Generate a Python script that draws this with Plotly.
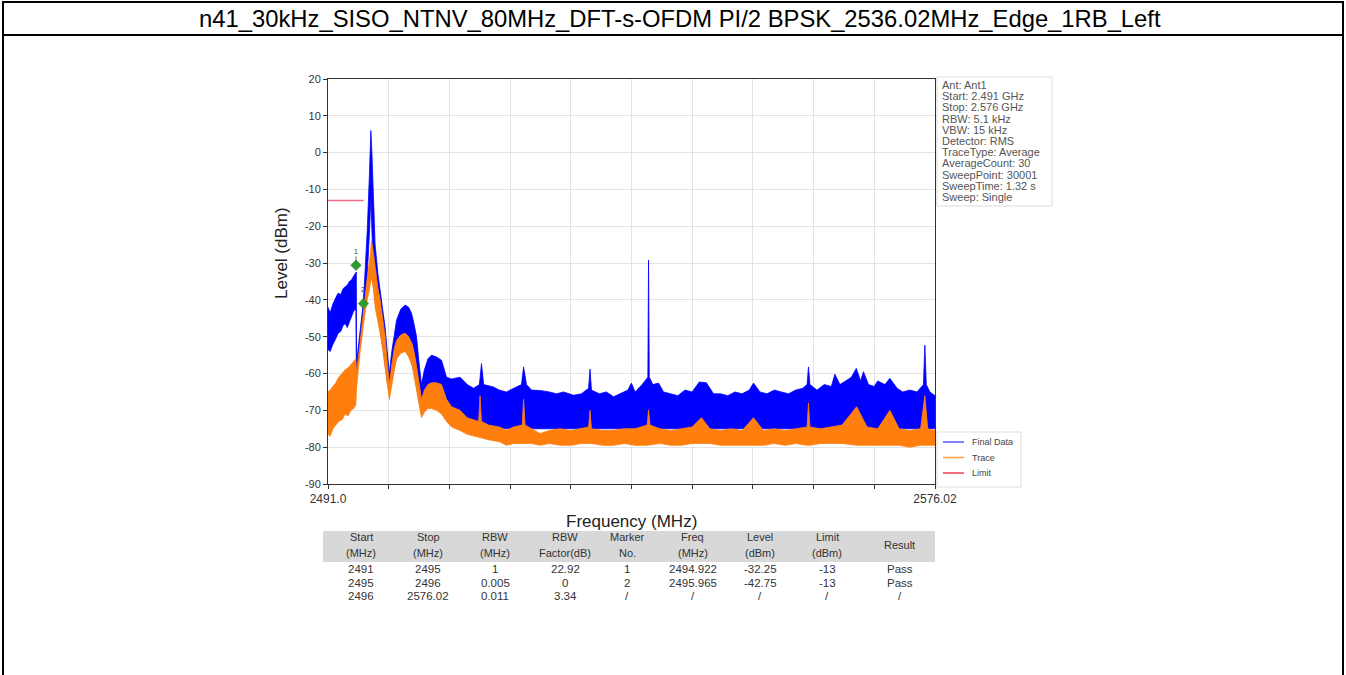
import plotly.graph_objects as go

W, H = 1346, 675

title_text = "n41_30kHz_SISO_NTNV_80MHz_DFT-s-OFDM PI/2 BPSK_2536.02MHz_Edge_1RB_Left"

# ---- Final Data (blue) envelope: frequency (MHz), upper level, lower level (dBm)
blue_freq = [2491.0, 2491.3, 2491.7, 2492.1, 2492.4, 2492.8, 2493.1, 2493.4, 2493.7, 2494.0,
             2494.3, 2494.6, 2494.9, 2494.97, 2495.0, 2495.3, 2495.6, 2495.96, 2496.2, 2496.5,
             2496.8, 2497.0, 2497.15, 2497.3, 2497.6, 2498.0, 2498.3, 2498.7, 2499.0, 2499.3,
             2499.6, 2499.9, 2500.3, 2500.6, 2501.2, 2501.8, 2502.3, 2502.7, 2503.1, 2503.4,
             2503.8, 2504.1, 2504.5, 2505.0, 2505.5, 2506.2, 2506.9, 2507.6, 2508.3, 2509.5,
             2510.5, 2511.4, 2512.2, 2512.5, 2512.8, 2514.1, 2515.0, 2516.0, 2517.0, 2518.1,
             2518.4, 2518.8, 2519.5, 2520.7, 2522.0, 2523.0, 2524.0, 2525.4, 2526.5, 2527.5,
             2527.7, 2527.9, 2529.0, 2530.0, 2531.0, 2532.0, 2533.0, 2533.5, 2534.0, 2535.0,
             2535.8, 2535.9, 2536.0, 2536.5, 2537.3, 2538.0, 2539.0, 2540.0, 2541.0, 2542.0,
             2543.0, 2544.0, 2545.0, 2546.0, 2547.0, 2548.0, 2549.0, 2550.0, 2550.6, 2551.5,
             2552.5, 2553.5, 2554.5, 2555.5, 2556.5, 2557.5, 2558.1, 2558.3, 2558.5, 2559.5,
             2560.5, 2561.5, 2562.0, 2562.7, 2563.5, 2564.3, 2565.0, 2565.6, 2566.0, 2566.7,
             2567.5, 2568.0, 2569.0, 2569.7, 2570.7, 2571.5, 2572.5, 2573.5, 2574.4, 2574.6,
             2574.8, 2575.3, 2576.02]
blue_top = [-42.0, -43.5, -41.0, -39.5, -38.2, -38.5, -37.0, -36.4, -36.0, -35.0,
            -34.5, -33.5, -32.4, -32.4, -57.0, -52.0, -46.5, -40.5, -32.0, -21.0,
            -6.0, 6.0, 0.0, -7.0, -25.0, -33.0, -37.0, -42.5, -47.5, -54.0,
            -60.0, -54.5, -48.5, -45.5, -42.5, -41.4, -42.0, -43.6, -47.0, -50.0,
            -58.0, -63.0, -59.0, -56.0, -55.0, -55.5, -56.4, -61.0, -61.5, -61.0,
            -63.0, -64.0, -63.0, -57.3, -63.0, -63.6, -64.5, -65.0, -64.0, -63.0,
            -58.2, -63.0, -64.5, -64.6, -65.0, -65.5, -65.0, -65.9, -65.5, -64.0,
            -58.8, -64.5, -65.5, -65.0, -66.3, -65.5, -64.5, -62.6, -65.0, -63.0,
            -61.0, -29.2, -61.0, -63.0, -62.6, -65.0, -65.5, -66.0, -64.5, -65.0,
            -62.3, -62.5, -65.5, -65.5, -66.0, -65.0, -65.5, -64.5, -62.6, -65.0,
            -65.5, -64.5, -65.0, -65.5, -64.5, -64.0, -63.0, -58.2, -63.0, -64.5,
            -63.0, -63.5, -60.2, -63.0, -62.0, -61.0, -58.6, -62.0, -59.5, -63.0,
            -63.5, -62.0, -63.0, -61.3, -64.0, -65.0, -64.5, -65.0, -63.0, -52.3,
            -63.0, -65.0, -66.0]
blue_bottom = [-53.5, -54.0, -52.0, -50.5, -49.1, -48.5, -47.0, -46.4, -47.5, -46.0,
               -44.5, -43.0, -42.5, -58.0, -61.0, -56.0, -50.0, -44.0, -40.0, -33.0,
               -22.0, -12.0, -18.0, -30.0, -40.0, -45.0, -48.0, -53.0, -57.0, -62.0,
               -65.0, -62.0, -58.0, -56.0, -54.0, -53.5, -55.0, -57.0, -60.0, -63.0,
               -68.0, -71.0, -70.0, -69.0, -68.0, -69.0, -70.0, -72.0, -74.0] + [-75.0] * 84

# ---- Trace (orange) envelope
orange_freq = [2491.0, 2491.3, 2491.7, 2492.1, 2492.5, 2493.0, 2493.4, 2493.8, 2494.2, 2494.6,
               2494.9, 2495.0, 2495.5, 2495.96, 2496.3, 2496.5, 2496.9, 2497.1, 2497.35, 2497.6,
               2498.0, 2498.3, 2498.7, 2499.0, 2499.3, 2499.6, 2499.9, 2500.3, 2500.6, 2501.2,
               2501.8, 2502.3, 2502.8, 2503.1, 2503.4, 2503.8, 2504.1, 2504.5, 2505.0, 2505.5,
               2506.2, 2506.9, 2507.6, 2508.3, 2509.5, 2510.5, 2511.5, 2512.1, 2512.3, 2512.5,
               2513.5, 2515.0, 2516.0, 2517.0, 2518.2, 2518.4, 2518.6, 2519.5, 2520.7, 2522.0,
               2523.5, 2525.0, 2526.5, 2527.5, 2527.7, 2527.9, 2529.5, 2531.0, 2532.5, 2534.0,
               2535.7, 2535.9, 2536.1, 2537.5, 2539.0, 2540.5, 2542.0, 2543.3, 2544.5, 2546.0,
               2547.5, 2549.0, 2550.6, 2552.0, 2553.5, 2555.0, 2556.5, 2558.1, 2558.3, 2558.5,
               2560.0, 2561.5, 2563.0, 2565.05, 2566.5, 2568.0, 2569.7, 2571.0, 2572.5, 2574.0,
               2574.6, 2575.0, 2576.02]
orange_top = [-65.0, -64.5, -63.5, -62.5, -61.0, -60.0, -59.0, -58.5, -57.5, -56.5,
              -56.0, -60.0, -51.0, -44.0, -37.0, -34.0, -28.0, -24.0, -27.0, -31.0,
              -37.0, -40.0, -45.0, -50.0, -57.0, -63.0, -58.0, -53.0, -51.0, -49.5,
              -49.0, -50.0, -52.0, -54.5, -58.0, -64.0, -67.0, -64.5, -63.0, -62.5,
              -62.5, -63.0, -67.0, -69.0, -70.0, -72.0, -72.7, -73.0, -66.0, -73.0,
              -74.0, -74.5, -75.4, -74.5, -74.0, -67.0, -74.0, -75.0, -76.3, -75.5,
              -75.0, -75.5, -75.0, -74.5, -70.0, -75.0, -75.5, -75.4, -75.0, -75.0,
              -74.0, -69.9, -74.0, -75.0, -75.5, -75.0, -74.5, -72.0, -75.0, -75.5,
              -75.0, -75.5, -72.0, -75.5, -75.0, -75.5, -75.0, -74.5, -68.0, -74.5,
              -75.0, -74.5, -74.0, -69.0, -74.5, -75.0, -70.0, -75.0, -75.5, -75.0,
              -66.0, -75.0, -75.5]
orange_bottom = [-76.5, -77.0, -75.0, -74.0, -73.0, -72.5, -71.0, -71.5, -70.0, -69.5,
                 -68.5, -64.0, -54.0, -47.0, -42.0, -40.0, -36.0, -34.0, -37.0, -42.0,
                 -46.0, -49.0, -54.0, -58.0, -63.0, -67.0, -64.0, -59.0, -56.0, -54.5,
                 -54.0, -55.5, -58.0, -61.0, -64.0, -69.0, -72.0, -70.5, -69.5, -69.5,
                 -70.0, -71.0, -73.0, -74.5, -75.5, -76.5, -77.0, -77.5, -77.5, -77.5,
                 -78.0, -78.5, -79.5, -79.0, -79.0, -79.0, -79.0, -79.0, -79.5, -79.0,
                 -79.5, -79.5, -79.0, -79.0, -79.0, -79.0, -79.5, -79.5, -79.0, -79.5,
                 -79.5, -79.5, -79.5, -79.0, -79.5, -79.5, -79.0, -79.0, -79.0, -79.5,
                 -79.5, -79.5, -79.5, -79.5, -79.0, -79.5, -79.0, -79.5, -79.5, -79.5,
                 -79.0, -79.0, -79.0, -79.5, -79.5, -79.5, -79.5, -79.5, -80.0, -79.5,
                 -79.5, -79.5, -79.5]

# ---- Limit line
limit_freq = [2491.0, 2496.0]
limit_level = [-13.0, -13.0]

# ---- Markers
marker_no = ["1", "2"]
marker_freq = [2494.922, 2495.965]
marker_level = [-30.6, -41.0]

# ---- Axis ticks
x_tick_values = [2491.0, 2499.502, 2508.004, 2516.506, 2525.008, 2533.51, 2542.012,
                 2550.514, 2559.016, 2567.518, 2576.02]
x_tick_labels = ["2491.0", "", "", "", "", "", "", "", "", "", "2576.02"]
y_tick_values = [20, 10, 0, -10, -20, -30, -40, -50, -60, -70, -80, -90]
y_tick_labels = ["20", "10", "0", "-10", "-20", "-30", "-40", "-50", "-60", "-70", "-80", "-90"]

# ---- Info box
info_lines = ["Ant: Ant1", "Start: 2.491 GHz", "Stop: 2.576 GHz", "RBW: 5.1 kHz", "VBW: 15 kHz",
              "Detector: RMS", "TraceType: Average", "AverageCount: 30", "SweepPoint: 30001",
              "SweepTime: 1.32 s", "Sweep: Single"]

# ---- Legend
legend_names = ["Final Data", "Trace", "Limit"]
legend_colors = ["#5a5aff", "#ffa040", "#f03c50"]

# ---- Table
table_header = [["Start", "(MHz)"], ["Stop", "(MHz)"], ["RBW", "(MHz)"], ["RBW", "Factor(dB)"],
                ["Marker", "No."], ["Freq", "(MHz)"], ["Level", "(dBm)"], ["Limit", "(dBm)"], ["Result"]]
table_rows = [
    ["2491", "2495", "1", "22.92", "1", "2494.922", "-32.25", "-13", "Pass"],
    ["2495", "2496", "0.005", "0", "2", "2495.965", "-42.75", "-13", "Pass"],
    ["2496", "2576.02", "0.011", "3.34", "/", "/", "/", "/", "/"],
]

FONT = "Liberation Sans, Arial, sans-serif"
BLUE = "#0000ff"
ORANGE = "#ff7f0e"


def px(x):
    return x / W


def py(y):
    return 1 - y / H


fig = go.Figure()

fig.add_trace(go.Scatter(
    x=blue_freq + blue_freq[::-1], y=blue_top + blue_bottom[::-1],
    fill="toself", fillcolor=BLUE, mode="lines", line=dict(color=BLUE, width=0.8),
    showlegend=False, hoverinfo="skip"))
fig.add_trace(go.Scatter(
    x=orange_freq + orange_freq[::-1], y=orange_top + orange_bottom[::-1],
    fill="toself", fillcolor=ORANGE, mode="lines", line=dict(color=ORANGE, width=0.8),
    showlegend=False, hoverinfo="skip"))
fig.add_trace(go.Scatter(
    x=limit_freq, y=limit_level, mode="lines",
    line=dict(color="rgba(240,60,100,0.75)", width=1.5), showlegend=False))
fig.add_trace(go.Scatter(
    x=marker_freq, y=marker_level, mode="markers",
    marker=dict(symbol="diamond", size=8, color="#2e9b2e", line=dict(color="#1d6b1d", width=0.5)),
    showlegend=False))

annotations = []
shapes = []


def txt(x, y, text, size, color="#333", xanchor="center", angle=0):
    annotations.append(dict(x=px(x), y=py(y), xref="paper", yref="paper", text=text,
                            showarrow=False, textangle=angle,
                            font=dict(family=FONT, size=size, color=color),
                            xanchor=xanchor, yanchor="middle"))


txt(680, 19, title_text, 23.8, "black")
txt(281, 253, "Level (dBm)", 17, "#222", angle=-90)
txt(631, 521, "Frequency (MHz)", 17, "#222")

# info box
shapes.append(dict(type="rect", xref="paper", yref="paper", x0=px(937), x1=px(1052), y0=py(77),
                   y1=py(206), line=dict(color="#dddddd", width=1), fillcolor="white", layer="below"))
for i, line in enumerate(info_lines):
    txt(940, 85 + i * 11.2, line, 11, "#555", xanchor="left")

# legend box
shapes.append(dict(type="rect", xref="paper", yref="paper", x0=px(937), x1=px(1021), y0=py(432),
                   y1=py(487), line=dict(color="#dddddd", width=1), fillcolor="white", layer="below"))
for i, (name, col) in enumerate(zip(legend_names, legend_colors)):
    yy = 442 + i * 15.5
    shapes.append(dict(type="line", xref="paper", yref="paper", x0=px(943), x1=px(964),
                       y0=py(yy), y1=py(yy), line=dict(color=col, width=1.5)))
    txt(970, yy, name, 9, "#444", xanchor="left")

# marker labels
for n, f, l in zip(marker_no, marker_freq, marker_level):
    annotations.append(dict(x=f, y=l, xref="x", yref="y", text=n, showarrow=True, arrowhead=0,
                            arrowwidth=0.8, arrowcolor="#444", ax=0, ay=-14, standoff=4,
                            font=dict(family=FONT, size=7, color="#333")))

# table
col_centers = [361, 428, 495, 565, 627, 693, 760, 827, 900]
shapes.append(dict(type="rect", xref="paper", yref="paper", x0=px(323), x1=px(935), y0=py(531),
                   y1=py(562), line=dict(width=0), fillcolor="#d8d8d8", layer="below"))
for cx, hdr in zip(col_centers, table_header):
    if len(hdr) == 2:
        txt(cx, 537, hdr[0], 11)
        txt(cx, 552.5, hdr[1], 11)
    else:
        txt(cx, 545, hdr[0], 11)
for r, row in enumerate(table_rows):
    for cx, val in zip(col_centers, row):
        txt(cx, 569 + r * 13.5, val, 11.5)

# outer frame
for (x0, y0, x1, y1) in [(2, 2, 1344, 2), (2, 35, 1344, 35), (3, 1, 3, 675), (1343, 1, 1343, 675)]:
    shapes.append(dict(type="line", xref="paper", yref="paper", x0=px(x0), x1=px(x1),
                       y0=py(y0), y1=py(y1), line=dict(color="black", width=2)))

fig.update_layout(
    width=W, height=H, autosize=False,
    margin=dict(l=0, r=0, t=0, b=0, pad=0, autoexpand=False),
    paper_bgcolor="white", plot_bgcolor="white", showlegend=False,
    font=dict(family=FONT, color="#333"),
    xaxis=dict(domain=[px(328), px(935)], range=[2491.0, 2576.02], tickmode="array",
               tickvals=x_tick_values, ticktext=x_tick_labels, ticks="outside", ticklen=4,
               tickcolor="#333", showline=True, linecolor="#333", linewidth=1, mirror=True,
               showgrid=True, gridcolor="#e3e3e3", gridwidth=1, zeroline=False, automargin=False,
               tickfont=dict(family=FONT, size=12, color="#333")),
    yaxis=dict(domain=[py(484), py(79)], range=[-90, 20], tickmode="array",
               tickvals=y_tick_values, ticktext=y_tick_labels, ticks="outside", ticklen=4,
               tickcolor="#333", showline=True, linecolor="#333", linewidth=1, mirror=True,
               automargin=False, showgrid=True, gridcolor="#e3e3e3", gridwidth=1, zeroline=False,
               tickfont=dict(family=FONT, size=11, color="#333")),
    annotations=annotations, shapes=shapes,
)

fig.write_html("out.html", config={"displayModeBar": False},
               post_script="document.body.style.margin='0';document.body.style.overflow='hidden';")
